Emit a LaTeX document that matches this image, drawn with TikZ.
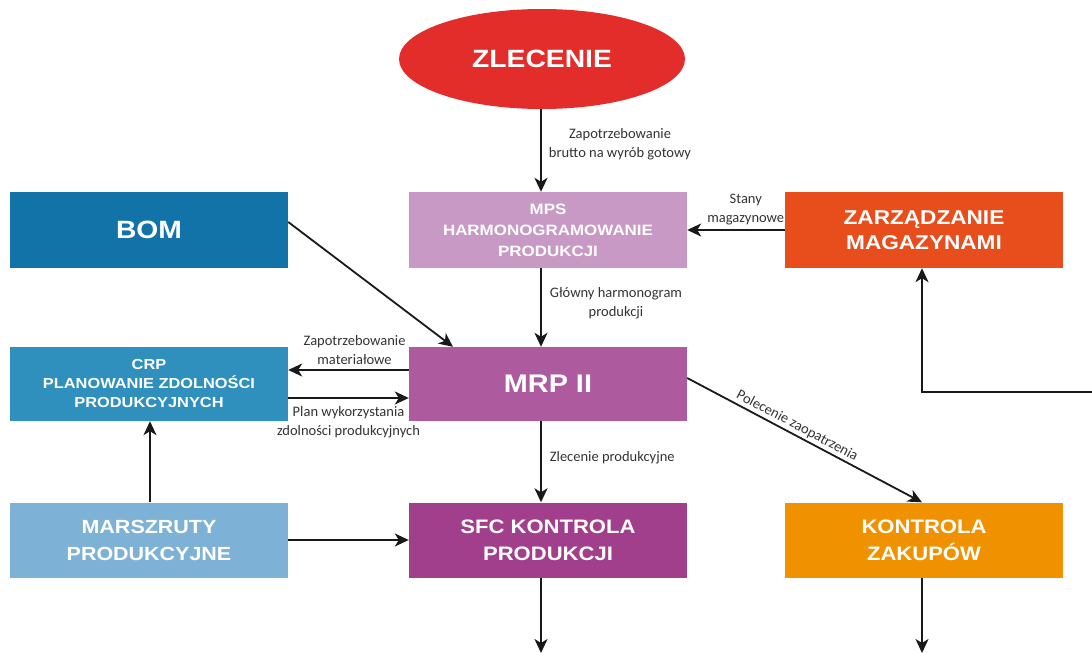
\documentclass[tikz,border=0pt]{standalone}
\usepackage{fontspec}
\setmainfont{Liberation Sans}
\newfontfamily\boxfont[FakeStretch=1.13]{Liberation Sans}
\newfontfamily\lblfont{Carlito}
\usetikzlibrary{shapes.geometric,arrows.meta}
\definecolor{cRed}{HTML}{E32D2A}
\definecolor{cMps}{HTML}{C899C4}
\definecolor{cBom}{HTML}{1173A8}
\definecolor{cMag}{HTML}{E84E1B}
\definecolor{cCrp}{HTML}{2F90BD}
\definecolor{cMrp}{HTML}{AE5A9F}
\definecolor{cMar}{HTML}{7EB1D6}
\definecolor{cSfc}{HTML}{A13F8C}
\definecolor{cZak}{HTML}{F09100}
\tikzset{
  box/.style={rectangle, minimum width=278pt, minimum height=76pt, inner sep=0pt,
    text=white, align=center},
  conn/.style={draw=black!90, line width=1.8pt, -{Stealth[length=14pt,width=13pt,inset=4pt]}},
  lbl/.style={font=\lblfont\fontsize{14.5}{19}\selectfont, text=black!80, align=center, inner sep=1pt}
}
\begin{document}
\begin{tikzpicture}[x=1pt,y=-1pt]
\useasboundingbox (0,0) rectangle (1092,653);
\node[ellipse, fill=cRed, minimum width=286pt, minimum height=100pt, inner sep=0pt,
  text=white, font=\boxfont\bfseries\fontsize{25}{28}\selectfont] (zl) at (542,59) {ZLECENIE};
\node[box, fill=cMps, font=\boxfont\bfseries\fontsize{15}{21}\selectfont] (mps) at (548,230) {MPS\\HARMONOGRAMOWANIE\\PRODUKCJI};
\node[box, fill=cBom, font=\boxfont\bfseries\fontsize{25}{28}\selectfont] (bom) at (149,230) {BOM};
\node[box, fill=cMag, font=\boxfont\bfseries\fontsize{20}{25}\selectfont] (mag) at (924,230) {ZARZĄDZANIE\\MAGAZYNAMI};
\node[box, fill=cCrp, minimum height=74pt, font=\boxfont\bfseries\fontsize{14.5}{19}\selectfont] (crp) at (149,384) {CRP\\PLANOWANIE ZDOLNOŚCI\\PRODUKCYJNYCH};
\node[box, fill=cMrp, minimum height=74pt, font=\boxfont\bfseries\fontsize{25.5}{30}\selectfont] (mrp) at (548,384) {MRP II};
\node[box, fill=cMar, minimum height=75pt, font=\boxfont\bfseries\fontsize{19}{27}\selectfont] (mar) at (149,540) {MARSZRUTY\\PRODUKCYJNE};
\node[box, fill=cSfc, minimum height=75pt, font=\boxfont\bfseries\fontsize{19.5}{27}\selectfont] (sfc) at (548,540) {SFC KONTROLA\\PRODUKCJI};
\node[box, fill=cZak, minimum height=75pt, font=\boxfont\bfseries\fontsize{19.5}{27}\selectfont] (zak) at (924,540) {KONTROLA\\ZAKUPÓW};

\coordinate (sfcout) at (541,653);
\coordinate (zakout) at (922,653);
\coordinate (magin) at (1092,392);
\coordinate (magcorner) at (922,392);

% connectors
\draw[conn] (zl.south -| 541,0) -- (mps.north -| 541,0)
  node[lbl, pos=0.42, right=6pt] {Zapotrzebowanie\\brutto na wyrób gotowy};
\draw[conn] (mag.west |- 0,230) -- (mps.east |- 0,230)
  node[lbl, pos=0.4, above=3pt] {Stany\\magazynowe};
\draw[conn] (mps.south -| 541,0) -- (mrp.north -| 541,0)
  node[lbl, pos=0.45, right=7pt] {Główny harmonogram\\produkcji};
\draw[conn] (bom.east |- 0,222) -- (mrp.north -| 453,0);
\draw[conn] (mrp.west |- 0,370) -- (crp.east |- 0,370)
  node[lbl, pos=0.45, above=3pt] {Zapotrzebowanie\\materiałowe};
\draw[conn] (crp.east |- 0,398) -- (mrp.west |- 0,398)
  node[lbl, pos=0.5, below=7pt] {Plan wykorzystania\\zdolności produkcyjnych};
\draw[conn] (mrp.south -| 541,0) -- (sfc.north -| 541,0)
  node[lbl, pos=0.45, right=7pt] {Zlecenie produkcyjne};
\draw[conn] (mrp.east |- 0,378) -- (zak.north -| 922,0)
  node[lbl, pos=0.45, sloped, above=1pt] {Polecenie zaopatrzenia};
\draw[conn] (mar.north -| 150,0) -- (crp.south -| 150,0);
\draw[conn] (mar.east |- 0,540) -- (sfc.west |- 0,540);
\draw[conn] (sfc.south -| 541,0) -- (sfcout);
\draw[conn] (zak.south -| 922,0) -- (zakout);
\draw[conn] (magin) -- (magcorner) -- (mag.south -| magcorner);
\end{tikzpicture}
\end{document}
